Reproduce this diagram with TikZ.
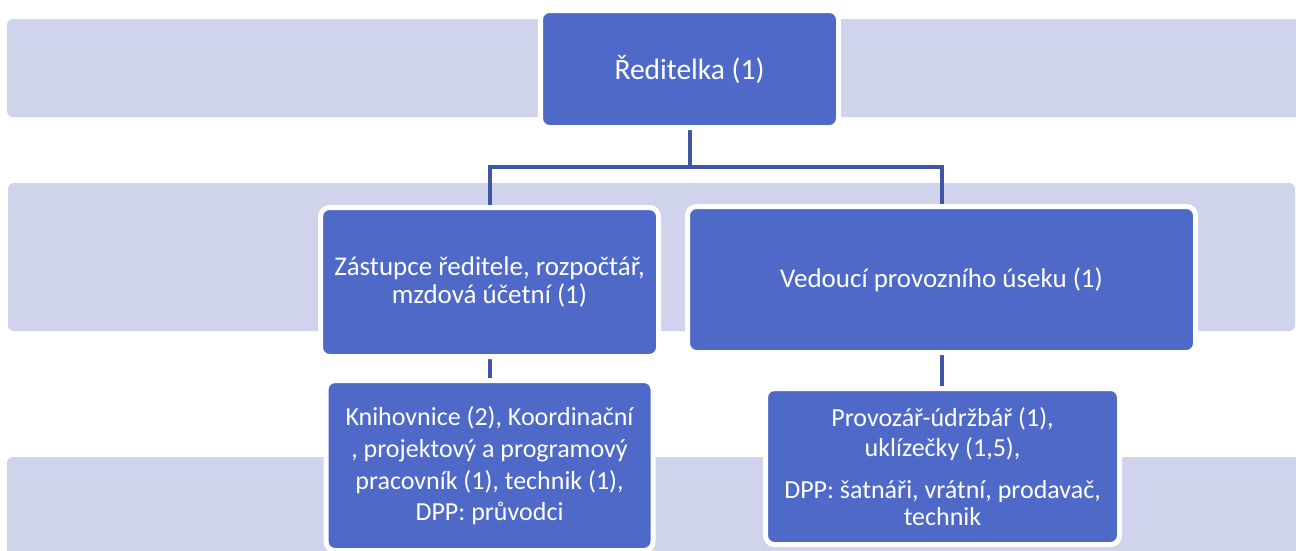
\documentclass[tikz,border=0pt]{standalone}
\usepackage{fontspec}
\setmainfont{Carlito}
\definecolor{bandc}{HTML}{D0D3EC}
\definecolor{boxc}{HTML}{4F69C8}
\definecolor{linec}{HTML}{3F55A5}
\pgfdeclarelayer{back}
\pgfdeclarelayer{mid}
\pgfsetlayers{back,mid,main}
\tikzset{
  band/.style={fill=bandc, rounded corners=6pt},
  orgbox/.style={rectangle, rounded corners=9pt, fill=boxc, draw=white, line width=5pt,
    text=white, align=center, inner sep=0pt},
  toptext/.style={font=\fontsize{29.5}{32}\selectfont},
  bigtext/.style={font=\fontsize{27}{28}\selectfont},
  smalltext/.style={font=\fontsize{26}{31}\selectfont},
  conn/.style={draw=linec, line width=4pt}
}
\begin{document}
\begin{tikzpicture}[x=1pt,y=-1pt]
\useasboundingbox (0,0) rectangle (1296,550);
\node[orgbox, toptext, minimum width=298pt, minimum height=117pt] (top) at (689.5,69) {Ředitelka (1)};
\node[orgbox, bigtext, minimum width=338pt, minimum height=149pt] (lmid) at (489.5,282) {Zástupce ředitele, rozpočtář,\\mzdová účetní (1)};
\node[orgbox, bigtext, minimum width=508pt, minimum height=146pt] (rmid) at (941.5,279.5) {Vedoucí provozního úseku (1)};
\node[orgbox, smalltext, minimum width=327pt, minimum height=170pt] (lbot) at (489.5,465.5) {Knihovnice (2), Koordinační\\[1pt], projektový a programový\\[1pt]pracovník (1), technik (1),\\DPP: průvodci};
\node[orgbox, smalltext, minimum width=354pt, minimum height=156pt] (rbot) at (942.5,466.5) {Provozář-údržbář (1),\\[-1pt]uklízečky (1,5),\\[11pt]DPP: šatnáři, vrátní, prodavač,\\[-4pt]technik};
\coordinate (split) at (689.5,167);
\begin{pgfonlayer}{back}
\fill[white] (0,0) rectangle (1296,550);
\fill[band] (7,19) rectangle (1306,117);
\fill[band] (8,183) rectangle (1295,331);
\fill[band] (7,457) rectangle (1306,570);
\end{pgfonlayer}
\begin{pgfonlayer}{mid}
\draw[conn] (top.south) -- (split);
\draw[conn] (split) -| (lmid.north);
\draw[conn] (split) -| (rmid.north);
\draw[conn] (lmid.south) -- (lmid.south |- lbot.north);
\draw[conn] (rmid.south) -- (rmid.south |- rbot.north);
\end{pgfonlayer}
\end{tikzpicture}
\end{document}
